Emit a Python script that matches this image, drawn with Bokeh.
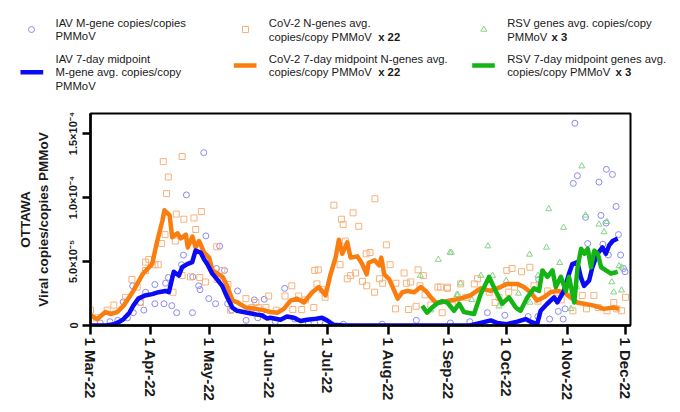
import numpy as np
from bokeh.plotting import figure
from bokeh.models import Range1d, FixedTicker, Title
from bokeh.layouts import column
from bokeh.embed import file_html
from bokeh.resources import INLINE
from bokeh.core.properties import value

# ---- data (x = days after 1 Mar 2022, y in units of 1e-5 copies/copies PMMoV) ----
month_ticks = [0, 31, 61, 92, 122, 153, 184, 214, 245, 275]
month_labels = ["1 Mar-22", "1 Apr-22", "1 May-22", "1 Jun-22", "1 Jul-22",
                "1 Aug-22", "1 Sep-22", "1 Oct-22", "1 Nov-22", "1 Dec-22"]
y_ticks = [0, 5, 10, 15]
y_labels = ["0", "5.0×10⁻⁵", "1.0×10⁻⁴", "1.5×10⁻⁴"]

iav_line_d = [0, 4, 8, 12, 15, 17, 20, 22, 24.6, 28, 31.7, 35, 38.6, 40.3, 42.8, 45.4, 47.1, 49.7,
              52.3, 54, 56.6, 58.3, 60, 62.6, 65.1, 67.7, 70.3, 72.9, 75.4, 80.6, 85.7, 88, 90.8,
              92.5, 97.7, 101, 104.5, 108, 111.3, 114.8, 119, 121.6, 125, 130, 140, 150, 160, 170,
              180, 190, 195, 200.5, 205.7, 209, 214, 219.4, 223.7, 226.2, 229.6, 231.4, 234.8,
              238.3, 240, 243.4, 246, 247.7, 250.3, 252, 253.7, 256.3, 258, 260.6, 263.2, 264.9,
              266.6, 268.4, 271]
iav_line_v = [0, 0, 0, 0.1, 0.3, 0.5, 1.0, 1.55, 2.1, 2.35, 2.45, 2.6, 2.7, 2.6, 4.2, 3.9, 4.55, 4.8,
              4.95, 5.85, 5.7, 5.2, 4.8, 4.05, 3.6, 3.1, 2.2, 1.4, 1.15, 1.0, 0.85, 0.8, 0.55,
              0.6, 0.45, 0.7, 0.6, 0.35, 0.45, 0.5, 0.6, 0.4, 0.05, 0, 0, 0, 0, 0,
              0, 0, 0, 0.2, 0.4, 0.2, 0.1, 0.3, 0.5, 0.3, 0.1, 1.15, 1.7,
              2.2, 1.8, 2.7, 4.05, 4.8, 4.95, 3.8, 3.1, 3.5, 4.55, 5.6, 6.1, 5.6,
              6.25, 6.6, 6.8]

cov_line_d = [0, 3.4, 7.7, 10.3, 13.7, 17, 22, 27, 31.7, 34, 37, 38, 40.7, 42, 44.7, 46.4, 49, 50,
              52.4, 54, 55.8, 58.4, 61, 62.7, 65.3, 67.9, 70.5, 73, 75.6, 79.9, 85, 89, 92.5, 96,
              99.4, 102.8, 106.2, 109.7, 114, 117.4, 120.8, 123.4, 126, 127.7, 129.4, 132, 133.7,
              137.2, 139.7, 142, 143, 146, 148.5, 149.5, 151, 153.6, 156.2, 157.9, 160.4, 163,
              166.4, 169.8, 172.4, 175, 177.5, 180, 185, 190.2, 195.3, 200.5, 205.7, 210.8, 214.2,
              219.4, 222.8, 226.2, 229.6, 233, 236.5, 239.9, 243.3, 246.8, 250.2, 253.6, 258.8,
              263.9, 269, 271.6]
cov_line_v = [0.8, 0.5, 1.05, 0.9, 1.05, 1.55, 2.7, 4.05, 4.8, 6.4, 8.2, 9.0, 8.6, 6.9, 7.2, 6.8, 7.1, 6.1,
              6.95, 6.1, 6.6, 5.7, 5.3, 4.3, 4.05, 3.8, 3.0, 1.95, 1.8, 1.4, 1.3, 1.2, 1.05, 1.0,
              1.3, 1.95, 2.1, 1.8, 2.6, 3.0, 2.35, 4.0, 5.3, 6.7, 5.6, 6.5, 5.3,
              5.4, 4.8, 4.0, 4.9, 5.1, 4.7, 5.3, 4.0, 3.6, 2.7, 2.1, 2.6, 2.7,
              2.6, 3.0, 2.7, 2.2, 1.8, 1.8, 1.95, 2.1, 2.35, 2.9, 2.7, 3.0, 3.25,
              3.25, 3.0, 2.6, 1.95, 2.2, 2.6, 2.7, 2.6, 2.2, 1.8, 1.7, 1.55,
              1.3, 1.4, 1.3]

rsv_line_d = [170.5, 173, 175.6, 178, 180.6, 183.4, 186.9, 189.5, 192, 197.2, 200.6, 204.9, 208.3,
              211.7, 215.1, 218.6, 221.1, 224.6, 228, 230.6, 232.3, 234.9, 237.5, 239.2, 241.8,
              244.4, 246, 248.7, 250.4, 252.2, 253.9, 255.6, 257.3, 259, 260.8, 262.5, 265, 267.6, 271]
rsv_line_v = [1.55, 1.0, 1.4, 1.7, 1.9, 1.8, 1.15, 1.7, 1.05, 0.9, 2.45, 3.8, 2.7,
              1.7, 2.2, 1.4, 1.15, 2.2, 2.9, 2.7, 4.3, 3.8, 4.3, 3.0, 3.8,
              2.7, 3.8, 1.8, 4.55, 6.0, 5.6, 6.0, 4.55, 5.85, 5.6, 4.55, 4.3, 4.05, 4.2]

iav_pts_d = [58.2, 49.3, 59.3, 66.4, 47.8, 46.8, 52.6, 68.9, 64.8, 40, 38.6, 33.1, 21.7, 55.6, 56.3,
             28.3, 25.7, 33.1, 37.8, 41.8, 27.4, 44.3, 52.4, 60.8, 64.3, 70.5, 75.6, 72.6, 89.3, 80,
             86, 16.8, 22, 5, 10, 14, 19, 99.8, 84.2, 95, 105, 112, 118, 130, 167.5, 150, 88,
             249, 250.3, 248.2, 265.2, 268.3, 261.4, 270.2, 254.5, 262.4, 265, 255.6, 263.4, 271.4,
             266.2, 272.5, 274, 274.8, 230.4, 236, 243, 204, 213, 225, 230, 240.5, 244, 195, 185]
iav_pts_v = [13.5, 10.2, 7.0, 6.2, 5.5, 4.75, 3.8, 4.3, 4.45, 3.75, 3.3, 3.2, 3.1, 3.1, 2.8,
             2.6, 1.8, 1.7, 1.7, 1.55, 1.2, 1.0, 1.0, 2.1, 1.7, 1.7, 2.7, 1.2, 2.05, 0.4,
             0.6, 1.85, 1.0, 0.2, 0.3, 0.4, 0.6, 2.9, 2.0, 0.3, 0.5, 0.2, 0.3, 0.1, 0.4, 0.1, 1.1,
             15.8, 11.7, 11.1, 12.2, 11.8, 11.2, 9.3, 8.45, 8.6, 8.0, 6.4, 6.35, 7.1,
             5.5, 5.5, 4.45, 4.2, 3.6, 0.5, 0.5, 1.0, 0.8, 0.7, 0.7, 1.1, 1.3, 0.3, 0.2]

cov_pts_d = [37.4, 47.1, 40, 39.1, 44.1, 48, 53.2, 57, 54.1, 38.3, 43.6, 36.6, 64.9, 30, 28.3, 34.8,
             33.1, 28.3, 47.1, 51.4, 56.2, 59.1, 21.3, 42.4, 25.7, 12, 8.6, 0, 3, 70.7, 65.2, 72,
             79.9, 85, 90.2, 95.5, 67.5, 18, 24,
             146.2, 125.1, 135, 129, 129.9, 137.9, 152.1, 131, 141.7, 143.7, 154, 128.3, 115.3,
             117.1, 136.3, 133.7, 132, 139.8, 142, 148.6, 150.2, 146, 161.2, 157, 162.4, 164.6,
             168.4, 171.1, 169.4, 178.6, 183.4, 103.5, 116.4, 119, 91.6, 100, 107, 110.5, 114.8,
             108.6, 104, 120.6, 156.8, 163.5, 167.4, 180.8, 86.5, 83, 175, 172,
             225.9, 221.6, 216.7, 214, 183.5, 197.3, 199, 190.3, 180, 239.9, 247.6, 252.8, 258.8,
             275, 269, 273, 265.5, 248, 255, 261, 205, 210, 215, 208, 230, 235, 242, 186, 193,
             228, 218, 270.5]
cov_pts_v = [12.8, 13.2, 11.6, 10.3, 8.7, 8.3, 8.4, 8.9, 7.5, 7.1, 6.6, 6.4, 6.15, 5.15, 4.95, 4.75,
             4.75, 4.3, 3.9, 3.8, 3.75, 3.4, 3.6, 2.6, 1.8, 1.6, 1.2, 1.2, 0.6, 3.2, 3.6, 1.2,
             2.1, 1.8, 1.4, 1.2, 4.3, 2.2, 3.0,
             9.9, 9.4, 8.8, 8.3, 7.9, 7.75, 6.3, 6.6, 5.6, 5.7, 4.75, 4.75, 4.3,
             4.35, 4.1, 3.9, 3.65, 3.45, 3.1, 3.65, 3.3, 2.6, 4.1, 3.3, 3.3, 3.4,
             4.35, 3.9, 3.1, 3.0, 2.9, 3.1, 3.25, 2.8, 2.3, 2.3, 2.3, 2.0, 1.4,
             1.25, 1.25, 2.2, 1.3, 1.25, 1.5, 1.0, 1.4, 1.4, 1.6, 2.4,
             4.55, 4.2, 4.45, 4.3, 3.0, 3.25, 3.65, 3.25, 3.0, 2.6, 2.35, 2.35, 2.35,
             2.2, 1.8, 1.15, 1.15, 1.15, 1.3, 1.4, 2.6, 2.2, 2.6, 1.8, 1.9, 2.7, 2.0, 1.6, 2.2,
             3.1, 3.0, 1.3]

rsv_pts_d = [178.8, 184.8, 169.6, 188.3, 252.6, 235.6, 254.5, 261.4, 265.5, 243.2, 204.3, 234.4,
             185.5, 225.7, 241.2, 264, 271.7, 273, 206.7, 200.7, 213.7, 269, 273, 190.3, 188.9,
             226, 247, 268, 230, 196, 175, 210, 220, 257, 250]
rsv_pts_v = [5.15, 5.7, 3.9, 2.4, 12.45, 9.1, 8.6, 7.9, 8.1, 7.65, 6.2, 6.1,
             5.7, 5.55, 4.9, 7.3, 4.65, 4.55, 3.9, 3.9, 3.5, 2.6, 2.75, 3.3, 2.4,
             1.8, 1.3, 3.4, 3.9, 2.0, 1.2, 1.5, 2.5, 5.5, 3.0]

# ---- styles ----
FONT = value("Liberation Sans")
BLUE, ORANGE, GREEN = "#0a0af5", "#fa7d0f", "#14b414"
BLUE_L, ORANGE_L, GREEN_L = "#8a8aee", "#f7b27c", "#86d486"
TXT = "#1a1a1a"

# ---- legend panel (coordinates are panel pixels) ----
leg = figure(width=672, height=100, x_range=Range1d(0, 672), y_range=Range1d(100, 0),
             toolbar_location=None, output_backend="svg", min_border=0,
             x_axis_location=None, y_axis_location=None)
leg.grid.visible = False
leg.outline_line_color = None

leg.scatter([31], [29], marker="circle", size=6, fill_color=None, line_color=BLUE_L, line_width=1)
leg.scatter([245], [29], marker="square", size=6, fill_color=None, line_color=ORANGE_L, line_width=1)
leg.scatter([483.3], [29], marker="triangle", size=6, fill_color=None, line_color=GREEN_L, line_width=1)
leg.line([20, 42.7], [71.7, 71.7], line_width=4.5, color=BLUE)
leg.line([233.3, 256], [65, 65], line_width=4.5, color=ORANGE)
leg.line([471.7, 494.3], [65, 65], line_width=4.5, color=GREEN)

norm_x = [55, 55, 55, 55, 55, 268.3, 268.3, 268.3, 268.3, 506.7, 506.7, 506.7, 506.7]
norm_y = [22.7, 35, 58.3, 71.7, 85, 22.7, 36, 58.3, 71.7, 22.7, 36, 58.3, 71.7]
norm_t = ["IAV M-gene copies/copies", "PMMoV", "IAV 7-day midpoint", "M-gene avg. copies/copy",
          "PMMoV", "CoV-2 N-genes avg.", "copies/copy PMMoV", "CoV-2 7-day midpoint N-genes avg.",
          "copies/copy PMMoV", "RSV genes avg. copies/copy", "PMMoV",
          "RSV 7-day midpoint genes avg.", "copies/copy PMMoV"]
leg.text(norm_x, norm_y, text=norm_t, text_font=FONT, text_font_size="11.3px",
         text_baseline="middle", text_align="left", text_color=TXT)
leg.text([377.7, 377.7, 551, 615], [36, 71.7, 36, 71.7], text=["x 22", "x 22", "x 3", "x 3"],
         text_font=FONT, text_font_size="11.3px", text_font_style="bold",
         text_baseline="middle", text_align="left", text_color=TXT)

# ---- main plot ----
p = figure(width=664, height=304, x_range=Range1d(0, 277.6), y_range=Range1d(0, 16.56),
           toolbar_location=None, output_backend="svg",
           min_border_left=90, min_border_right=34, min_border_top=13, min_border_bottom=79)
p.grid.visible = False
p.outline_line_color = "black"
p.outline_line_width = 2
p.background_fill_color = "white"

# keep each figure's frame independent inside the column
for fig in (leg, p):
    if "frame_align" in fig.properties():
        fig.frame_align = False

p.scatter(iav_pts_d, iav_pts_v, marker="circle", size=6, fill_color=None, line_color=BLUE_L, line_width=1)
p.scatter(cov_pts_d, cov_pts_v, marker="square", size=6, fill_color=None, line_color=ORANGE_L, line_width=1)
p.scatter(rsv_pts_d, rsv_pts_v, marker="triangle", size=6, fill_color=None, line_color=GREEN_L, line_width=1)
p.line(cov_line_d, cov_line_v, line_width=4.5, color=ORANGE, line_join="round")
p.line(iav_line_d, iav_line_v, line_width=4.5, color=BLUE, line_join="round")
p.line(rsv_line_d, rsv_line_v, line_width=4.5, color=GREEN, line_join="round")

xa = p.xaxis[0]
xa.ticker = FixedTicker(ticks=month_ticks)
xa.major_label_overrides = {t: l for t, l in zip(month_ticks, month_labels)}
xa.major_label_orientation = "vertical"
xa.major_label_text_font = "Liberation Sans"
xa.major_label_text_font_style = "bold"
xa.major_label_text_font_size = "15px"
xa.major_label_text_color = TXT
xa.major_label_standoff = 3
xa.major_tick_in = 0
xa.major_tick_out = 9
xa.major_tick_line_width = 2.5
xa.minor_tick_line_color = None
xa.axis_line_width = 2.5

ya = p.yaxis[0]
ya.ticker = FixedTicker(ticks=y_ticks)
ya.major_label_overrides = {t: l for t, l in zip(y_ticks, y_labels)}
ya.major_label_orientation = "vertical"
ya.major_label_text_font = "Liberation Sans"
ya.major_label_text_font_style = "bold"
ya.major_label_text_font_size = "11px"
ya.major_label_text_color = TXT
ya.major_label_standoff = 3
ya.major_tick_in = 0
ya.major_tick_out = 8
ya.major_tick_line_width = 2.5
ya.minor_tick_line_color = None
ya.axis_line_width = 2.5
ya.axis_label = "Viral copies/copies PMMoV"
ya.axis_label_text_font = "Liberation Sans"
ya.axis_label_text_font_style = "bold"
ya.axis_label_text_font_size = "13.5px"
ya.axis_label_text_color = TXT
ya.axis_label_standoff = 14

p.add_layout(Title(text="OTTAWA", align="center", text_font="Liberation Sans",
                   text_font_size="13.5px", text_font_style="bold", text_color=TXT,
                   standoff=0), "left")

layout = column(leg, p, spacing=0)
open("out.html", "w").write(file_html(layout, INLINE))
